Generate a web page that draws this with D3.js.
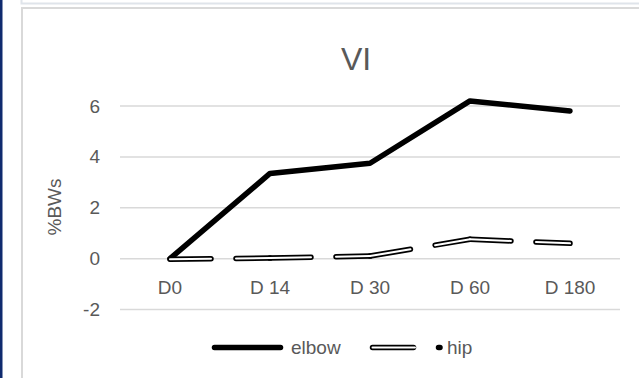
<!DOCTYPE html>
<html><head><meta charset="utf-8">
<script src="https://cdn.jsdelivr.net/npm/d3@7"></script>
<style>
html,body{margin:0;padding:0;background:#fff;}
svg{display:block;font-family:"Liberation Sans",Arial,sans-serif;}
</style></head>
<body><svg id="c" width="639" height="378"></svg>
<script>
const categories = ["D0", "D 14", "D 30", "D 60", "D 180"];
const elbow = [0, 3.35, 3.75, 6.2, 5.8];
const hip = [-0.02, 0.02, 0.1, 0.76, 0.6];
const yTicks = [-2, 0, 2, 4, 6];
const title = "VI";
const yLabel = "%BWs";
const seriesNames = ["elbow", "hip"];

const svg = d3.select("#c");
const textCol = "#595959", gridCol = "#d9d9d9";
const fs = "19px";

// frame decorations
svg.append("rect").attr("x",0).attr("y",0).attr("width",2.5).attr("height",378).attr("fill","#0f2a6e");
svg.append("path").attr("d","M21.5,0 V3.5 H639").attr("fill","none").attr("stroke","#dfe4ea").attr("stroke-width",2);
svg.append("path").attr("d","M22,378 V8 H639").attr("fill","none").attr("stroke",gridCol).attr("stroke-width",2);

const x = d3.scaleBand().domain(categories).range([120,620]);
const y = d3.scaleLinear().domain([-2,6]).range([309.5,106]);
const cx = c => x(c) + x.bandwidth()/2;

// gridlines
svg.append("g").selectAll("line").data(yTicks).join("line")
  .attr("x1",120).attr("x2",620).attr("y1",d=>y(d)).attr("y2",d=>y(d))
  .attr("stroke",gridCol).attr("stroke-width",1.5);

// y axis labels
const yAxis = d3.axisLeft(y).tickValues(yTicks).tickSize(0).tickPadding(0).tickFormat(d=>String(d));
const ga = svg.append("g").attr("transform","translate(100,0)").call(yAxis);
ga.select(".domain").remove();
ga.selectAll("text").attr("fill",textCol).style("font-size",fs).style("font-family","'Liberation Sans',Arial,sans-serif");

// x axis labels
const xAxis = d3.axisBottom(x).tickSize(0).tickPadding(0);
const gx = svg.append("g").attr("transform",`translate(0,${y(0)+22})`).call(xAxis);
gx.select(".domain").remove();
gx.selectAll("text").attr("fill",textCol).style("font-size",fs).style("font-family","'Liberation Sans',Arial,sans-serif");

// title
svg.append("text").attr("x",356).attr("y",70).attr("text-anchor","middle")
  .attr("fill",textCol).style("font-size","32px").text(title);

// y label
svg.append("text").attr("transform","translate(61,207) rotate(-90)").attr("text-anchor","middle")
  .attr("fill",textCol).style("font-size",fs).text(yLabel);

// elbow line
const line = d3.line().x((d,i)=>cx(categories[i])).y(d=>y(d));
svg.append("path").datum(elbow).attr("d",line).attr("fill","none")
  .attr("stroke","#000").attr("stroke-width",5.5).attr("stroke-linejoin","round").attr("stroke-linecap","round");

// hip line: segments each with restarting dash
const dash = "41,25";
const segs = d3.range(hip.length-1).map(i=>[[cx(categories[i]),y(hip[i])],[cx(categories[i+1]),y(hip[i+1])]]);
const lg = d3.line();
const hg = svg.append("g");
segs.forEach(s=>{
  hg.append("path").attr("d",lg(s)).attr("fill","none").attr("stroke","#000").attr("stroke-width",5.5)
    .attr("stroke-dasharray",dash).attr("stroke-linecap","round");
});
segs.forEach(s=>{
  hg.append("path").attr("d",lg(s)).attr("fill","none").attr("stroke","#fff").attr("stroke-width",2)
    .attr("stroke-dasharray",dash).attr("stroke-linecap","round");
});

// legend
const ly = 347.5;
svg.append("line").attr("x1",214.5).attr("x2",280.5).attr("y1",ly).attr("y2",ly)
  .attr("stroke","#000").attr("stroke-width",5.5).attr("stroke-linecap","round");
svg.append("text").attr("x",291).attr("y",ly+6.5).attr("fill",textCol).style("font-size",fs).text(seriesNames[0]);
svg.append("line").attr("x1",372.5).attr("x2",440).attr("y1",ly).attr("y2",ly)
  .attr("stroke","#000").attr("stroke-width",5.5).attr("stroke-dasharray",dash).attr("stroke-linecap","round");
svg.append("line").attr("x1",372.5).attr("x2",415).attr("y1",ly).attr("y2",ly)
  .attr("stroke","#fff").attr("stroke-width",2).attr("stroke-linecap","round");
svg.append("text").attr("x",447).attr("y",ly+6.5).attr("fill",textCol).style("font-size",fs).text(seriesNames[1]);
</script></body></html>
